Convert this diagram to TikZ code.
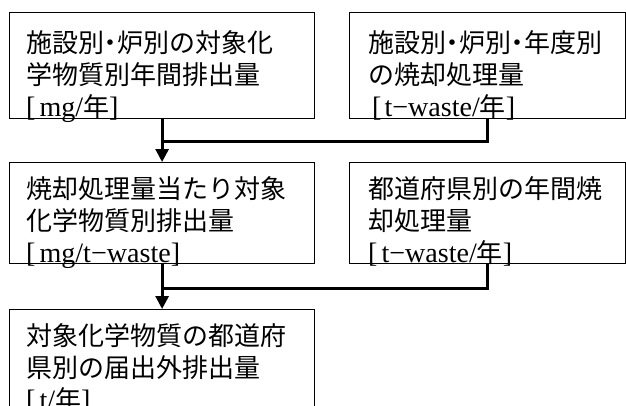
\documentclass[tikz,border=0pt]{standalone}
\usepackage{fontspec}
\setmainfont[Scale=1.08]{Liberation Serif}
\newfontfamily\jp{Noto Sans CJK JP}
\newfontfamily\jpp[RawFeature=+palt]{Noto Sans CJK JP}
\usetikzlibrary{arrows.meta,calc}
\begin{document}
\begin{tikzpicture}[x=1pt,y=1pt,
  box/.style={draw,line width=1.2pt,anchor=north west,inner sep=0pt},
  txt/.style={anchor=north west,inner sep=0pt,align=left,
    font=\fontsize{26pt}{32pt}\selectfont},
  conn/.style={line width=2.8pt},
  arr/.style={line width=2.8pt,-{Triangle[width=13pt,length=13pt]}}]
\useasboundingbox (0,0) rectangle (626,-405);
\clip (0,0) rectangle (626,-405);
\newcommand\st{\rule{0pt}{26pt}}
\newcommand\dt{{\jpp ・}}
% boxes
\node[box,minimum width=305pt,minimum height=106pt] (b1) at (9,-12) {};
\node[box,minimum width=276pt,minimum height=106pt] (b2) at (349,-12) {};
\node[box,minimum width=305pt,minimum height=101pt] (b3) at (9,-162) {};
\node[box,minimum width=276pt,minimum height=101pt] (b4) at (349,-162) {};
\node[box,minimum width=305pt,minimum height=110pt] (b5) at (9,-309) {};
% texts
\node[txt] (t1) at ($(b1.north west)+(17,-14)$) {\st{\jp 施設別}\dt{\jp 炉別の対象化}\\{\jp 学物質別年間排出量}\\{[}\hspace{4pt}mg/{\jp 年}]};
\node[txt] (t2) at ($(b2.north west)+(19,-14)$) {\st{\jp 施設別}\dt{\jp 炉別}\dt{\jp 年度別}\\{\jp の焼却処理量}\\\hspace{4pt}{[}\hspace{3pt}t−waste/{\jp 年}]};
\node[txt] (t3) at ($(b3.north west)+(17,-10)$) {\st{\jp 焼却処理量当たり対象}\\{\jp 化学物質別排出量}\\{[}\hspace{4pt}mg/t−waste]};
\node[txt] (t4) at ($(b4.north west)+(19,-10)$) {\st{\jp 都道府県別の年間焼}\\{\jp 却処理量}\\{[}\hspace{4pt}t−waste/{\jp 年}]};
\node[txt] (t5) at ($(b5.north west)+(17,-10)$) {\st{\jp 対象化学物質の都道府}\\{\jp 県別の届出外排出量}\\{[}\hspace{4pt}t/{\jp 年}]};
% connectors
\coordinate (j1) at ($(b1.south)+(0,-22)$);
\coordinate (j2) at ($(b3.south)+(0,-24)$);
\draw[conn] (b1.south) -- (j1);
\draw[conn] (b2.south) |- (j1);
\draw[arr] (j1) -- (b3.north);
\draw[conn] (b3.south) -- (j2);
\draw[conn] (b4.south) |- (j2);
\draw[arr] (j2) -- (b5.north);
\end{tikzpicture}
\end{document}
